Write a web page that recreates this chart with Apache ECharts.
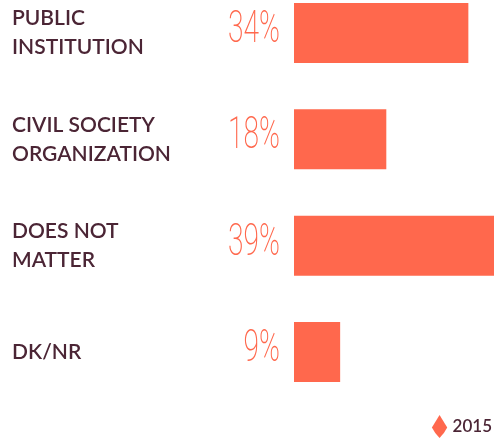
<!DOCTYPE html>
<html>
<head>
<meta charset="utf-8">
<script src="https://cdn.jsdelivr.net/npm/echarts@6/dist/echarts.min.js"></script>
<style>
  html, body { margin: 0; padding: 0; background: #fff; }
  #chart { width: 494px; height: 440px; }
</style>
</head>
<body>
<div id="chart"></div>
<script>
// Survey answers and their shares (percent)
const categories = ['PUBLIC\nINSTITUTION', 'CIVIL SOCIETY\nORGANIZATION', 'DOES NOT\nMATTER', 'DK/NR'];
const values2015 = [34, 18, 39, 9];
const seriesName = '2015';

const coral = '#FF684D';
const ink = '#4B2535';

const chart = echarts.init(document.getElementById('chart'));
chart.setOption({
  animation: false,
  grid: { left: 294, right: 0, top: 33, bottom: 88, containLabel: false },
  xAxis: {
    type: 'value', min: 0, max: 39,
    show: false
  },
  yAxis: {
    type: 'category',
    data: categories,
    inverse: true,
    boundaryGap: false,
    axisLine: { show: false },
    axisTick: { show: false },
    splitLine: { show: false },
    axisLabel: {
      margin: 282,
      align: 'left',
      color: ink,
      fontFamily: 'Lato',
      fontWeight: 600,
      fontSize: 21,
      lineHeight: 29
    }
  },
  legend: {
    right: 2, bottom: 2, padding: 0,
    itemWidth: 16, itemHeight: 23,
    itemGap: 10,
    icon: 'path://M8,0 L16,13 Q13,19 8,24 Q3,19 0,13 Z',
    textStyle: { color: ink, fontFamily: 'Lato', fontSize: 17, fontWeight: 600 },
    data: [seriesName]
  },
  series: [{
    name: seriesName,
    type: 'bar',
    data: values2015,
    barWidth: 60,
    itemStyle: { color: coral }
  }, {
    // thin, narrow percentage figures to the left of each bar
    name: 'labels',
    type: 'custom',
    data: values2015.map((v, i) => [v, i]),
    encode: { x: 0, y: 1 },
    silent: true,
    renderItem: function (params, api) {
      const p = api.coord([0, api.value(1)]);
      return {
        type: 'text',
        x: p[0] - 14,
        y: p[1] - 2,
        scaleX: 0.64,
        style: {
          text: api.value(0) + '%',
          align: 'right',
          verticalAlign: 'middle',
          fill: coral,
          fontFamily: 'Roboto',
          fontStyle: 'normal',
          fontWeight: 200,
          fontSize: 44
        }
      };
    }
  }]
});
</script>
</body>
</html>
